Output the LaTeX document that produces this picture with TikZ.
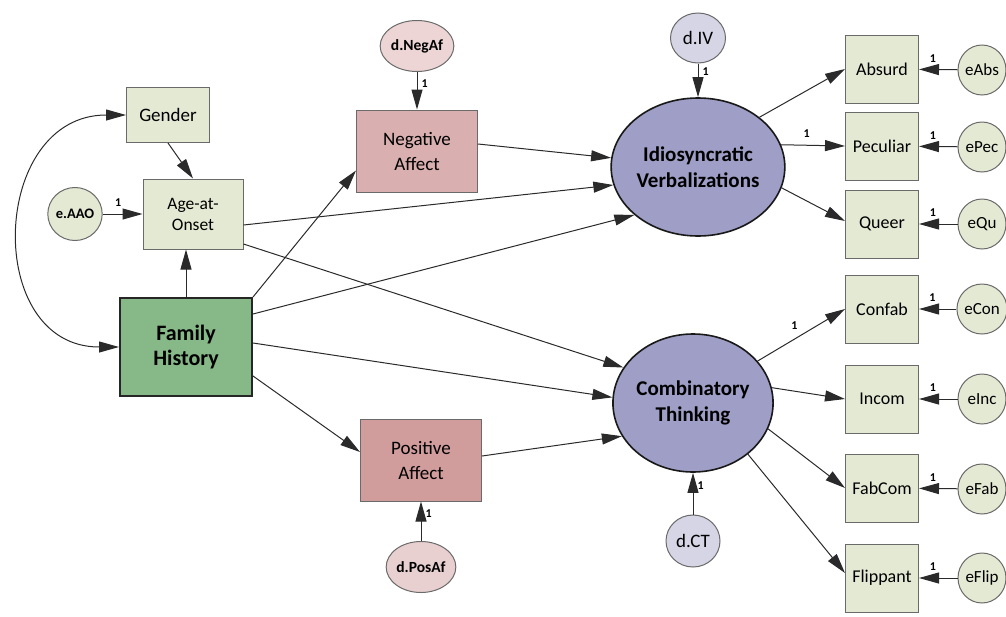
\documentclass[tikz,border=0pt]{standalone}
\usepackage{fontspec}
\setmainfont{Carlito}
\usetikzlibrary{arrows.meta,shapes.geometric}
\definecolor{obs}{HTML}{E4E9D4}
\definecolor{bordc}{HTML}{6A6A6A}
\definecolor{linec}{HTML}{2A2A2A}
\definecolor{fhc}{HTML}{87B887}
\definecolor{negc}{HTML}{D9AFAF}
\definecolor{posc}{HTML}{D09C9C}
\definecolor{dnegc}{HTML}{EDD5D5}
\definecolor{dposc}{HTML}{E9D0D0}
\definecolor{latc}{HTML}{9E9EC6}
\definecolor{dlatc}{HTML}{D5D5E6}
\begin{document}
\begin{tikzpicture}[x=1pt,y=-1pt,
  box/.style={draw=bordc, line width=1pt, fill=obs, minimum width=73pt, minimum height=68pt, inner sep=0pt, align=center, font=\fontsize{18}{21}\selectfont},
  err/.style={ellipse, draw=bordc, line width=1pt, fill=obs, minimum width=48pt, minimum height=50pt, inner sep=0pt, font=\fontsize{17}{18}\selectfont},
  fhbox/.style={draw=black!85, line width=2pt, fill=fhc, minimum width=132pt, minimum height=98pt, inner sep=0pt, align=center, font=\bfseries\fontsize{22}{25}\selectfont},
  affect/.style={draw=bordc, line width=1pt, minimum width=121pt, minimum height=82pt, inner sep=0pt, align=center, font=\fontsize{19}{25}\selectfont},
  dist/.style={ellipse, draw=bordc, line width=1pt, minimum width=62pt, minimum height=51pt, inner sep=0pt, font=\bfseries\fontsize{15.5}{16}\selectfont},
  latent/.style={ellipse, draw=black!90, line width=1.6pt, fill=latc, minimum width=146pt, minimum height=138pt, inner sep=0pt, align=center, font=\bfseries\fontsize{21}{26}\selectfont},
  dlat/.style={ellipse, draw=bordc, line width=1pt, fill=dlatc, minimum width=55pt, minimum height=50pt, inner sep=0pt, font=\fontsize{19}{20}\selectfont},
  arr/.style={draw=linec, line width=1pt, -{Triangle[length=20pt,width=11pt]}},
  biarr/.style={draw=linec, line width=1pt, {Triangle[length=20pt,width=11pt]}-{Triangle[length=20pt,width=11pt]}},
  one/.style={font=\bfseries\fontsize{12}{12}\selectfont, inner sep=1pt, text=black}
]
\useasboundingbox (0,0) rectangle (1006,616);

% exogenous / antecedents
\node[box, minimum width=83pt, minimum height=55pt, font=\fontsize{19}{22}\selectfont] (gender) at (168,115) {Gender};
\node[box, minimum width=100pt, minimum height=70pt, font=\fontsize{17.5}{21}\selectfont] (age) at (193,214) {Age-at-\\Onset};
\node[err, minimum width=54pt, minimum height=53pt, font=\bfseries\fontsize{14.5}{15}\selectfont] (eaao) at (75,214) {e.AAO};
\node[fhbox] (fh) at (186,347) {Family\\History};

% affects
\node[affect, fill=negc] (na) at (417,151) {Negative\\Affect};
\node[affect, fill=posc] (pa) at (421,460) {Positive\\Affect};
\node[dist, fill=dnegc] (dneg) at (417,46) {d.NegAf};
\node[dist, fill=dposc] (dpos) at (421,567) {d.PosAf};

% latents
\node[latent] (iv) at (698,167) {Idiosyncratic\\Verbalizations};
\node[latent] (ct) at (693,403) {Combinatory\\Thinking};
\node[dlat] (div) at (698,38) {d.IV};
\node[dlat, minimum width=54pt, minimum height=52pt] (dct) at (693,541) {d.CT};

% indicators
\node[box] (absurd) at (882,69) {Absurd};
\node[box] (peculiar) at (882,146) {Peculiar};
\node[box] (queer) at (882,224) {Queer};
\node[box] (confab) at (882,309) {Confab};
\node[box] (incom) at (882,399) {Incom};
\node[box] (fabcom) at (882,488) {FabCom};
\node[box] (flippant) at (882,578) {Flippant};

% errors
\node[err] (eabs) at (982,70) {eAbs};
\node[err] (epec) at (982,147) {ePec};
\node[err] (equ) at (982,224) {eQu};
\node[err] (econ) at (982,309) {eCon};
\node[err] (einc) at (982,399) {eInc};
\node[err] (efab) at (982,489) {eFab};
\node[err] (eflip) at (982,578) {eFlip};

% connectors: left part
\draw[arr] (gender.south) -- (age.north);
\draw[arr] (eaao) -- node[one, above=6pt, pos=0.39]{1} (age);
\draw[arr] (fh.north) -- (fh.north |- age.south);
\draw[biarr] (fh.west) to[out=180,in=180,looseness=1.5] (gender.west);

\draw[arr] (fh.north east) -- ([yshift=22pt]na.south west);
\draw[arr] ([yshift=33pt]fh.east) -- (iv.217);
\draw[arr] ([yshift=4pt]fh.east) -- (ct.176);
\draw[arr] ([yshift=-29pt]fh.east) -- ([yshift=8pt]pa.west);
\draw[arr] ([yshift=-11pt]age.east) -- (iv.192);
\draw[arr] ([yshift=-30pt]age.east) -- (ct.153);
\draw[arr] ([yshift=7pt]na.east) -- (iv.174);
\draw[arr] ([yshift=4pt]pa.east) -- (ct.205);

% disturbances
\draw[arr] (dneg) -- node[one, right=3pt, pos=0.3]{1} (na);
\draw[arr] (dpos) -- node[one, right=3pt, pos=0.7]{1} (pa);
\draw[arr] (div) -- node[one, right=3pt, pos=0.25]{1} (iv);
\draw[arr] (dct) -- node[one, right=3pt, pos=0.7]{1} (ct);

% loadings
\draw[arr] (iv.39) -- (absurd.west);
\draw[arr] (iv.15) -- node[one, above=6pt, pos=0.4]{1} (peculiar.west);
\draw[arr] (iv.-14) -- ([yshift=3pt]queer.west);
\draw[arr] (ct.33) -- node[one, above=8pt, pos=0.42]{1} (confab.west);
\draw[arr] (ct.11) -- (incom.west);
\draw[arr] (ct.-19) -- (fabcom.west);
\draw[arr] (ct.-43) -- ([yshift=5pt]flippant.west);

% measurement errors
\draw[arr] (eabs) -- node[one, above=6pt, pos=0.64]{1} (absurd);
\draw[arr] (epec) -- node[one, above=6pt, pos=0.64]{1} (peculiar);
\draw[arr] (equ) -- node[one, above=6pt, pos=0.64]{1} (queer);
\draw[arr] (econ) -- node[one, above=6pt, pos=0.64]{1} (confab);
\draw[arr] (einc) -- node[one, above=6pt, pos=0.64]{1} (incom);
\draw[arr] (efab) -- node[one, above=6pt, pos=0.64]{1} (fabcom);
\draw[arr] (eflip) -- node[one, above=6pt, pos=0.64]{1} (flippant);
\end{tikzpicture}
\end{document}
